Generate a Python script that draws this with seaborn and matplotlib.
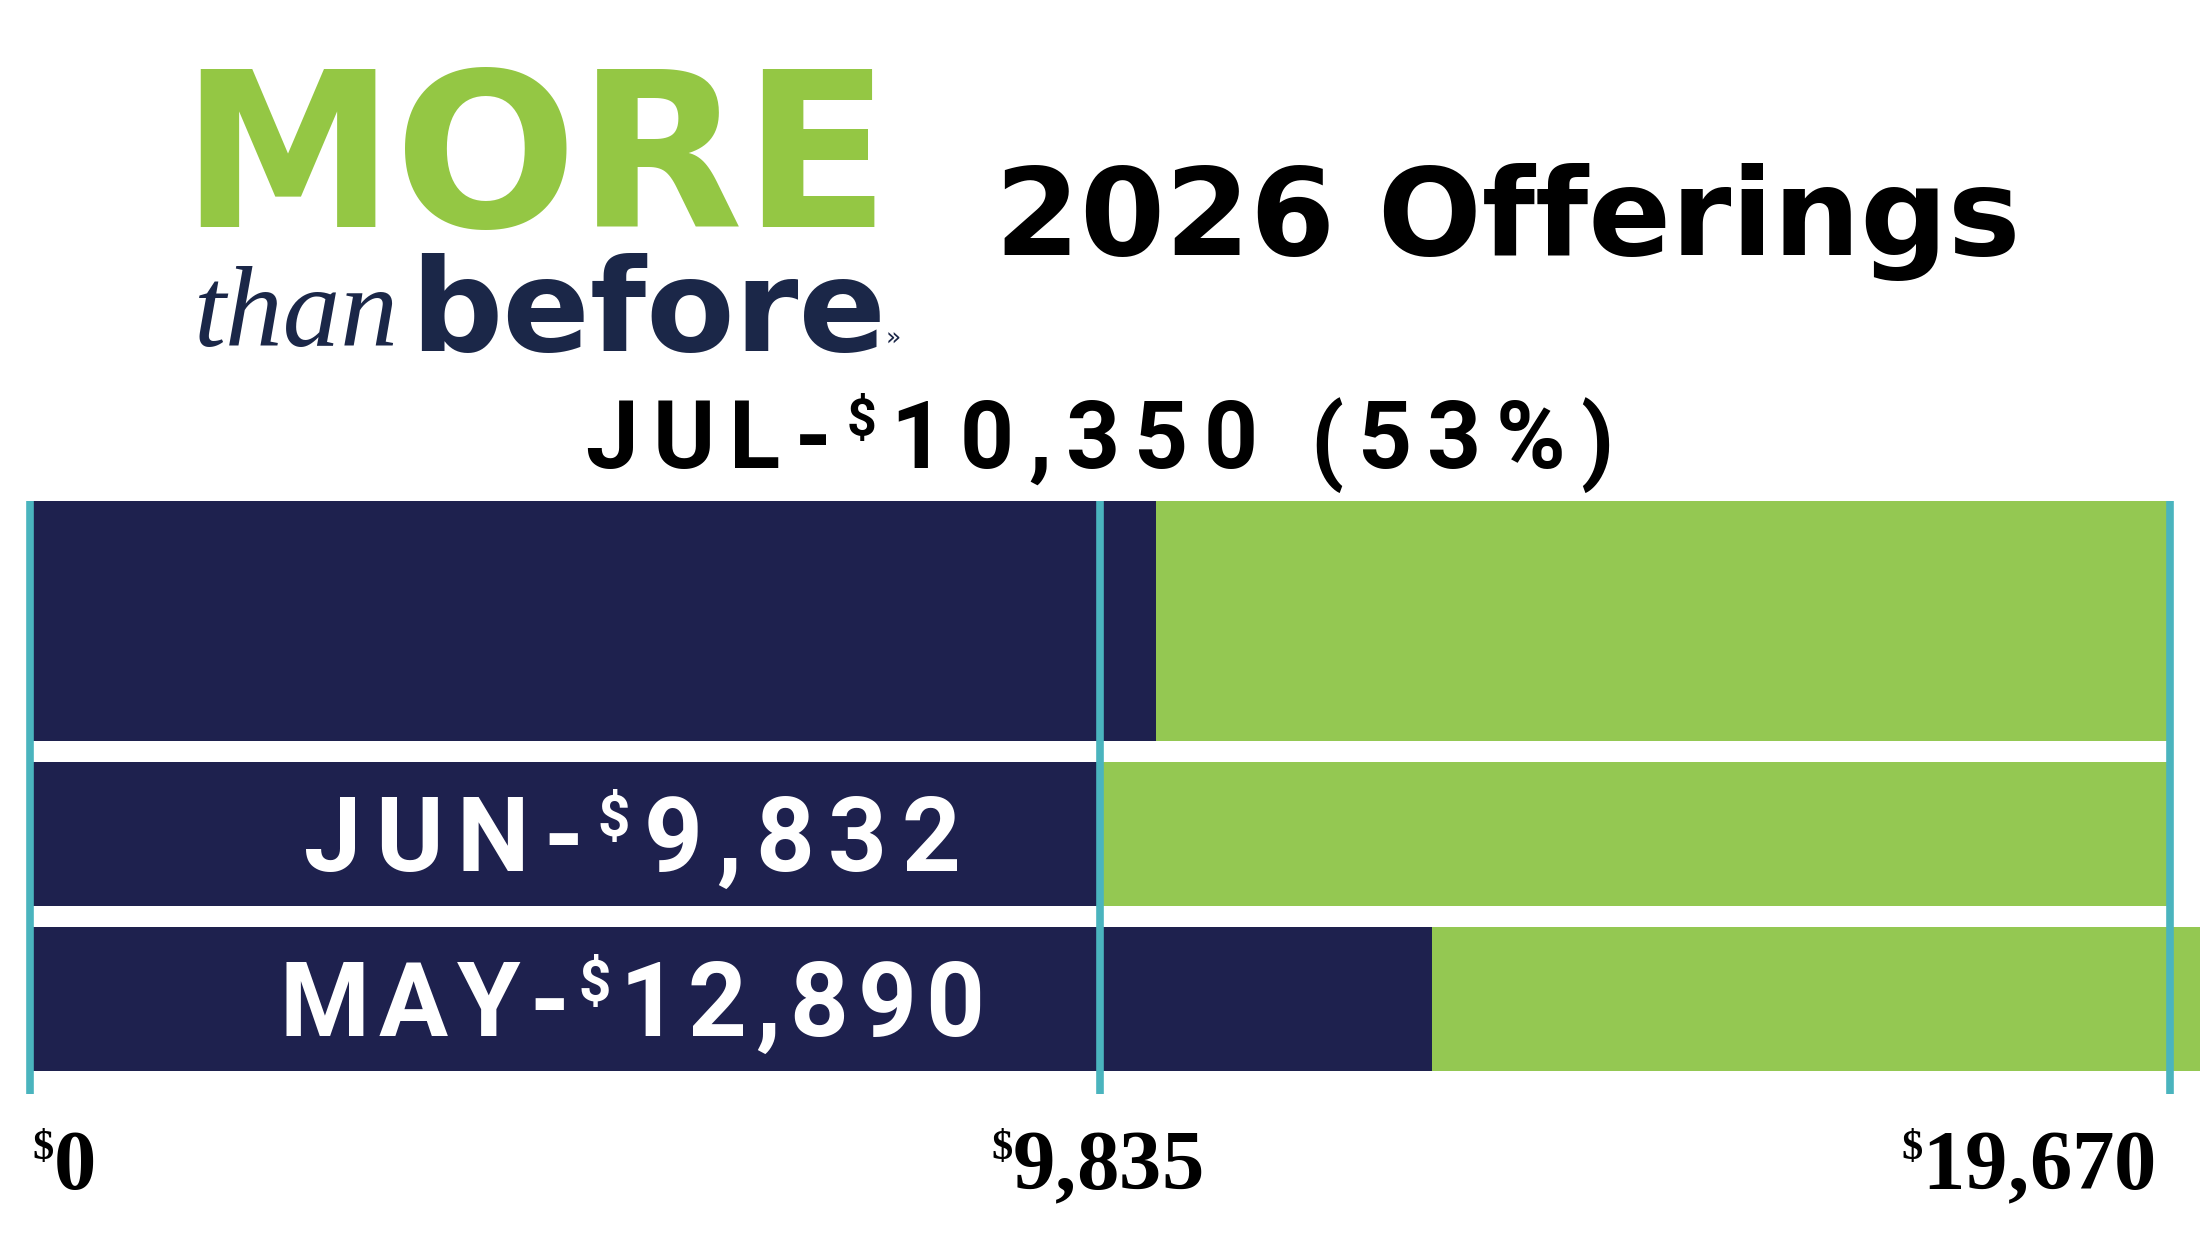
import matplotlib
matplotlib.use("Agg")
import matplotlib.pyplot as plt
from matplotlib.offsetbox import TextArea, HPacker, AnnotationBbox
import pandas as pd
import seaborn as sns

# ─────────────────────────── Data ────────────────────────────────────────────
months = ["JUL", "JUN", "MAY"]
offerings = [10350, 9832, 12890]
bar_totals = [19670, 19670, 20000]      # green track behind each bar
jul_share = 53
tick_values = [0, 9835, 19670]
tick_labels = ["0", "9,835", "19,670"]
title = "2026 Offerings"

NAVY = "#1e214e"
GREEN = "#94c852"
TEAL = "#4ab4be"
LOGO_GREEN = "#94c744"
LOGO_NAVY = "#1b2748"

# ─────────────────────────── Setup ───────────────────────────────────────────
W, H = 2200, 1238
sns.set_theme(style="white")
plt.rcParams["font.family"] = ["DejaVu Sans"]

fig = plt.figure(figsize=(W / 100, H / 100), dpi=100)
fig.patch.set_facecolor("white")


def fx(px):
    return px / W


def fy(py):
    return 1 - py / H


# $0 sits at px 30, the goal at px 2170, axes span the full width
px_per_dollar = (2170 - 30) / tick_values[-1]
xlim = (-30 / px_per_dollar, (W - 30) / px_per_dollar)

df = pd.DataFrame({"month": months, "offering": offerings, "total": bar_totals})


def spaced(parts, color, family, size, spacing, weight="bold"):
    boxes = []
    for text, scale in parts:
        for ch in text:
            boxes.append(TextArea(ch, textprops=dict(color=color, family=family,
                                                     weight=weight, fontsize=size * scale)))
    return HPacker(children=boxes, align="top", pad=0, sep=spacing)


# ─────────────────────────── Bars ────────────────────────────────────────────
ax_top = fig.add_axes([0, fy(741), 1, (741 - 501) / H])
ax_bot = fig.add_axes([0, fy(1071), 1, (1071 - 762) / H])

for ax, d, w in [(ax_top, df.iloc[:1], 1.0), (ax_bot, df.iloc[1:], 0.878)]:
    sns.barplot(data=d, x="total", y="month", color=GREEN, width=w, linewidth=0,
                saturation=1, errorbar=None, ax=ax)
    sns.barplot(data=d, x="offering", y="month", color=NAVY, width=w, linewidth=0,
                saturation=1, errorbar=None, ax=ax)
    ax.set_ylim(len(d) - 1 + w / 2, -w / 2)
    ax.set_xlim(*xlim)
    ax.axis("off")

# month labels inside the lower bars
label_sep = [10, 6.5]
for i, (m, v) in enumerate(zip(months[1:], offerings[1:])):
    lab = spaced([(m + "-", 1), ("$", 0.55), (f"{v:,}", 1)], "white", "Roboto", 74,
                 label_sep[i])
    ab = AnnotationBbox(lab, (632 / W, i), xycoords=("axes fraction", "data"),
                        xybox=(0, -6), boxcoords="offset points",
                        box_alignment=(0.5, 0.5), frameon=False, pad=0)
    ax_bot.add_artist(ab)

# JUL label above the top bar
jul = spaced([(months[0] + "-", 1), ("$", 0.55),
              (f"{offerings[0]:,} ({jul_share}%)", 1)], "black", "Roboto", 68, 10.5)
fig.add_artist(AnnotationBbox(jul, (fx(1099), fy(397)), xycoords="figure fraction",
                              box_alignment=(0.5, 1), frameon=False, pad=0))

# ─────────────────────────── Goal lines + ticks ──────────────────────────────
ax_lines = fig.add_axes([0, fy(1094), 1, (1094 - 501) / H])
ax_lines.set_xlim(*xlim)
ax_lines.set_ylim(0, 1)
ax_lines.axis("off")
ax_lines.patch.set_alpha(0)
ax_lines.vlines(tick_values, 0, 1, color=TEAL, lw=5.5)

aligns = [(0, 1), (0.5, 1), (1, 1)]
shifts = [2, -2, -10]
for v, lab, al, sh in zip(tick_values, tick_labels, aligns, shifts):
    box = spaced([("$", 0.5), (lab, 1)], "black", "Liberation Serif", 61, 0)
    ab = AnnotationBbox(box, (v, fy(1130)), xycoords=("data", "figure fraction"),
                        xybox=(sh, 0), boxcoords="offset points",
                        box_alignment=al, frameon=False, pad=0)
    ax_lines.add_artist(ab)

# ─────────────────────────── Logo + title ────────────────────────────────────
fig.text(fx(180), fy(227), "MORE", color=LOGO_GREEN, fontsize=155, weight="bold",
         va="baseline", ha="left")
fig.text(fx(194), fy(346), "than", color=LOGO_NAVY, fontsize=83, style="italic",
         family="Liberation Serif", va="baseline", ha="left")
fig.text(fx(410), fy(351), "before", color=LOGO_NAVY, fontsize=93, weight="bold",
         va="baseline", ha="left")
fig.text(fx(886), fy(346), "»", color=LOGO_NAVY, fontsize=18, va="baseline", ha="left")
fig.text(fx(995), fy(255), title, color="black", fontsize=88, weight="bold",
         va="baseline", ha="left")

fig.savefig("out.png", dpi=100, facecolor="white")
